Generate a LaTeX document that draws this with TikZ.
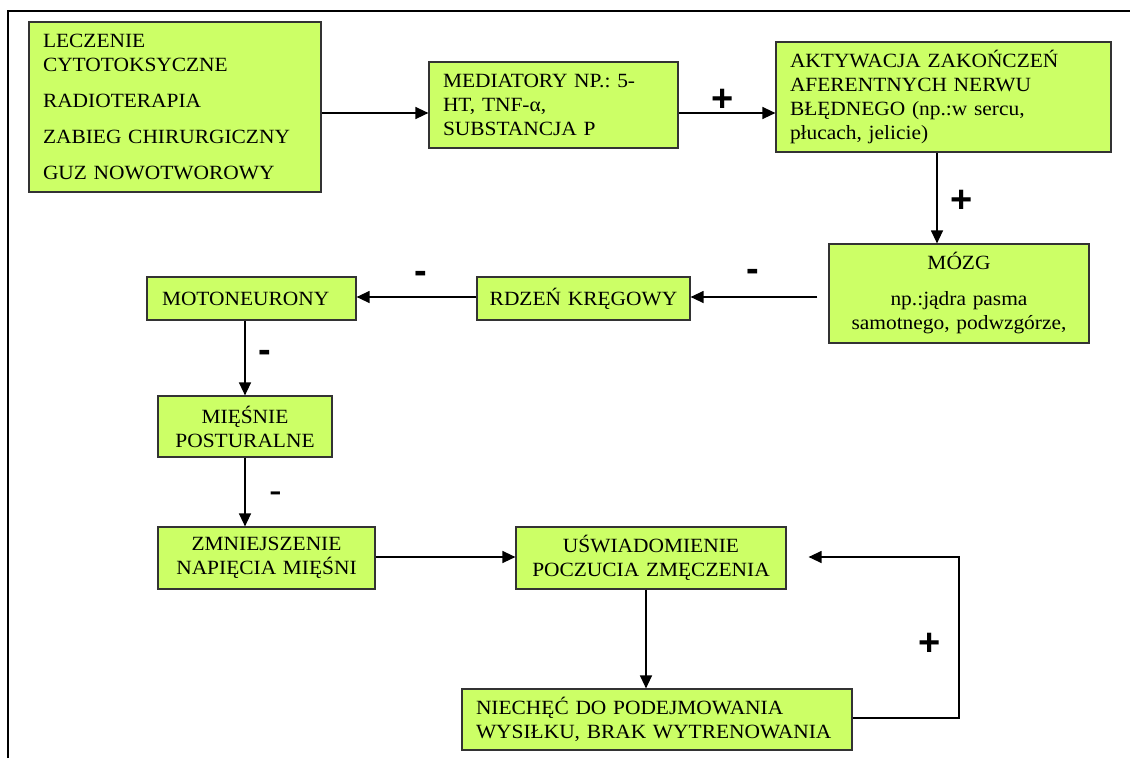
\documentclass[tikz,border=0pt]{standalone}
\usepackage{fontspec}
\setmainfont{Liberation Serif}[FakeStretch=1.06]
\setsansfont{Liberation Sans}
\usepackage{tikz}
\usetikzlibrary{shapes, arrows.meta, positioning}
\definecolor{limonka}{RGB}{204,255,102}

\begin{document}
\begin{tikzpicture}[x=1pt, y=-1pt,
    blok/.style={draw=black!80, fill=limonka, line width=1.2pt, inner xsep=14pt, inner ysep=0pt,
        font=\fontsize{20.2}{24}\selectfont\frenchspacing},
    strz/.style={-{Triangle[length=13pt,width=12pt]}, line width=1.3pt},
    znak/.style={font=\sffamily\bfseries\fontsize{38}{40}\selectfont, inner sep=0pt, anchor=base},
    znakc/.style={znak, font=\sffamily\fontsize{38}{40}\selectfont}]
    \useasboundingbox (0,0) rectangle (1130,758);
    % ramka
    \draw[line width=2pt] (8,758) -- (8,11) -- (1130,11);

    % bloki
    \node[blok, minimum width=292pt, minimum height=170pt, text width=264pt, align=left] (zrodla) at (175,107) {
        LECZENIE\\ CYTOTOKSYCZNE\\[12pt]
        RADIOTERAPIA\\[12pt]
        ZABIEG CHIRURGICZNY\\[12pt]
        GUZ NOWOTWOROWY};
    \node[blok, minimum height=86pt, text width=221pt, align=left] (mediatory) at (553.5,105) {
        MEDIATORY NP.: 5-\\ HT, TNF-α,\\ SUBSTANCJA P};
    \node[blok, minimum height=110pt, text width=307pt, align=left] (aktywacja) at (943.5,97) {
        AKTYWACJA ZAKOŃCZEŃ\\ AFERENTNYCH NERWU\\ BŁĘDNEGO (np.:w sercu,\\ płucach, jelicie)};
    \node[blok, minimum height=99pt, text width=232pt, align=center] (mozg) at (959,293.5) {
        MÓZG\\[12pt] np.:jądra pasma\\ samotnego, podwzgórze,};
    \node[blok, minimum height=43pt, inner xsep=3pt, text width=207pt, align=center] (rdzen) at (583.5,298.5) {
        RDZEŃ KRĘGOWY};
    \node[blok, minimum height=43pt, inner xsep=15pt, text width=179pt, align=left] (moto) at (251.5,298.5) {
        MOTONEURONY};
    \node[blok, minimum height=61pt, text width=146pt, align=center] (miesnie) at (245,426.5) {
        MIĘŚNIE\\ POSTURALNE};
    \node[blok, minimum height=62pt, text width=189pt, align=center] (zmniejszenie) at (266.5,558) {
        ZMNIEJSZENIE\\ NAPIĘCIA MIĘŚNI};
    \node[blok, minimum height=62pt, inner xsep=10pt, text width=250pt, align=center] (uswiadomienie) at (651,558) {
        UŚWIADOMIENIE\\ POCZUCIA ZMĘCZENIA};
    \node[blok, minimum height=61pt, text width=362pt, align=left] (niechec) at (657,719.5) {
        NIECHĘĆ DO PODEJMOWANIA\\ WYSIŁKU, BRAK WYTRENOWANIA};

    % linie pomocnicze dla strzalek
    \coordinate (w1) at (0,113);
    \coordinate (w2) at (0,297);
    \coordinate (w3) at (0,718);
    \coordinate (w4) at (0,557);
    \coordinate (k1) at (937,0);
    \coordinate (k2) at (646,0);
    \coordinate (k3) at (959,0);

    % strzalki
    \draw[strz] (zrodla.east |- w1) -- (mediatory.west |- w1);
    \draw[strz] (mediatory.east |- w1) -- (aktywacja.west |- w1);
    \draw[strz] (aktywacja.south -| k1) -- (mozg.north -| k1);
    \draw[strz, shorten <=11pt] (mozg.west |- w2) -- (rdzen.east |- w2);
    \draw[strz] (rdzen.west |- w2) -- (moto.east |- w2);
    \draw[strz] (moto.south -| miesnie.north) -- (miesnie.north);
    \draw[strz] (miesnie.south) -- (zmniejszenie.north -| miesnie.south);
    \draw[strz] (zmniejszenie.east |- w4) -- (uswiadomienie.west |- w4);
    \draw[strz] (uswiadomienie.south -| k2) -- (niechec.north -| k2);
    \draw[strz, shorten >=22pt] (niechec.east |- w3) -| (k3 |- w4) -- (uswiadomienie.east |- w4);

    % znaki
    \node[znak] (plus1) at (723,111.5) {+};
    \node[znak] (plus2) at (962,212.5) {+};
    \node[znak] (minus1) at (753,281) {-};
    \node[znak] (minus2) at (421,283) {-};
    \node[znak] (minus3) at (265,362) {-};
    \node[znakc] (minus4) at (276,503) {-};
    \node[znak] (plus3) at (930,655.5) {+};
\end{tikzpicture}
\end{document}
